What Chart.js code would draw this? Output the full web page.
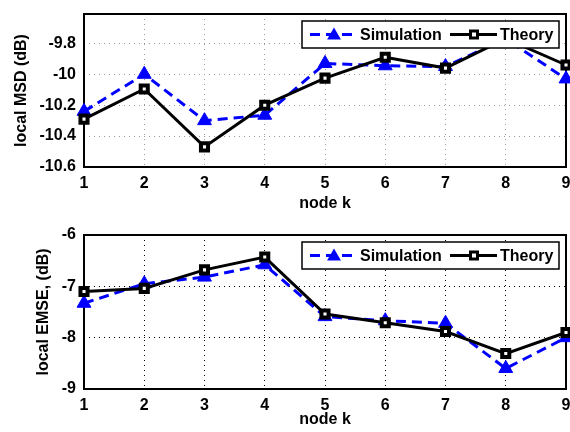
<!DOCTYPE html>
<html>
<head>
<meta charset="utf-8">
<script src="https://cdn.jsdelivr.net/npm/chart.js@4.4.0/dist/chart.umd.min.js"></script>
<style>
  body { margin: 0; background: #fff; }
  canvas { display: block; }
</style>
</head>
<body>
<canvas id="msdChart" width="570" height="216"></canvas>
<canvas id="emseChart" width="570" height="216"></canvas>
<script>
// Data
const nodes = ['1', '2', '3', '4', '5', '6', '7', '8', '9'];
const msdSimulation = [-10.24, -10.0, -10.30, -10.265, -9.93, -9.945, -9.95, -9.77, -10.03];
const msdTheory = [-10.29, -10.095, -10.47, -10.20, -10.025, -9.89, -9.96, -9.77, -9.94];
const msdTicks = [-10.6, -10.4, -10.2, -10, -9.8];
const emseSimulation = [-7.33, -6.95, -6.82, -6.58, -7.59, -7.67, -7.72, -8.60, -8.00];
const emseTheory = [-7.10, -7.04, -6.68, -6.43, -7.54, -7.71, -7.88, -8.31, -7.90];
const emseTicks = [-9, -8, -7, -6];
const legendLabels = ['Simulation', 'Theory'];

const FONT_FAMILY = '"Liberation Sans", Arial, sans-serif';
const BLUE = '#0000ff';

function drawTriangle(ctx, x, y, r) {
    ctx.beginPath();
    ctx.moveTo(x, y - r);
    ctx.lineTo(x + r * 0.866, y + r * 0.5);
    ctx.lineTo(x - r * 0.866, y + r * 0.5);
    ctx.closePath();
}

// Box around the plot area, like MATLAB axes
const boxPlugin = {
    id: 'axesBox',
    beforeDatasetsDraw(chart) {
        const { ctx, chartArea } = chart;
        ctx.save();
        ctx.strokeStyle = '#000';
        ctx.lineWidth = 2;
        ctx.strokeRect(chartArea.left, chartArea.top, chartArea.right - chartArea.left, chartArea.bottom - chartArea.top);
        ctx.restore();
    }
};

// Legend drawn inside the top right corner of the plot area
const insideLegend = {
    id: 'insideLegend',
    afterDraw(chart) {
        const { ctx, chartArea } = chart;
        const w = 257, h = 27;
        const left = chartArea.right - 7 - w;
        const top = chartArea.top + 7;
        const cy = top + h / 2;
        ctx.save();
        ctx.fillStyle = '#fff';
        ctx.fillRect(left, top, w, h);
        ctx.strokeStyle = '#000';
        ctx.lineWidth = 1.5;
        ctx.strokeRect(left, top, w, h);

        // Simulation sample
        ctx.strokeStyle = BLUE;
        ctx.lineWidth = 3;
        ctx.setLineDash([10, 6]);
        ctx.beginPath();
        ctx.moveTo(left + 8, cy);
        ctx.lineTo(left + 54, cy);
        ctx.stroke();
        ctx.setLineDash([]);
        ctx.fillStyle = BLUE;
        drawTriangle(ctx, left + 32, cy + 1, 8);
        ctx.fill();

        // Theory sample
        ctx.strokeStyle = '#000';
        ctx.lineWidth = 3;
        ctx.beginPath();
        ctx.moveTo(left + 148, cy);
        ctx.lineTo(left + 195, cy);
        ctx.stroke();
        ctx.fillStyle = '#000';
        ctx.fillRect(left + 167, cy - 5, 10, 10);
        ctx.fillStyle = '#fff';
        ctx.fillRect(left + 170, cy - 2, 4, 4);

        ctx.fillStyle = '#000';
        ctx.font = 'bold 16px ' + FONT_FAMILY;
        ctx.textBaseline = 'middle';
        ctx.textAlign = 'left';
        ctx.fillText(legendLabels[0], left + 58, cy + 1);
        ctx.fillText(legendLabels[1], left + 198, cy + 1);
        ctx.restore();
    }
};

function makeChart(id, simulation, theory, ticks, yMin, yMax, yTitle, gridColor, gridDash, padTop, xAxisHeight, titleOffset) {
    const ctx = document.getElementById(id).getContext('2d');
    return new Chart(ctx, {
        type: 'line',
        data: {
            labels: nodes,
            datasets: [{
                label: legendLabels[1],
                data: theory,
                borderColor: '#000',
                borderWidth: 3,
                pointStyle: 'rect',
                pointRadius: 5,
                pointBorderWidth: 4,
                pointBackgroundColor: '#fff',
                pointBorderColor: '#000',
                tension: 0,
                clip: false
            }, {
                label: legendLabels[0],
                data: simulation,
                borderColor: BLUE,
                borderWidth: 3,
                borderDash: [10, 6],
                pointStyle: 'triangle',
                pointRadius: 8,
                pointBorderWidth: 1,
                pointBackgroundColor: BLUE,
                pointBorderColor: BLUE,
                tension: 0,
                clip: false
            }]
        },
        options: {
            responsive: false,
            animation: false,
            devicePixelRatio: 1,
            layout: { autoPadding: false, padding: { top: padTop, right: 4, left: 0, bottom: 0 } },
            plugins: {
                legend: { display: false },
                tooltip: { enabled: false }
            },
            scales: {
                x: {
                    offset: false,
                    grid: { color: gridColor, lineWidth: 1, drawTicks: false },
                    border: { display: false, dash: gridDash },
                    ticks: {
                        color: '#000',
                        padding: 7,
                        maxRotation: 0,
                        font: { family: FONT_FAMILY, size: 16, weight: 'bold', lineHeight: 1.2 }
                    },
                    title: {
                        display: true,
                        text: 'node k',
                        color: '#000',
                        padding: { top: 0, bottom: 3 },
                        font: { family: FONT_FAMILY, size: 16, weight: 'bold', lineHeight: 1.2 }
                    },
                    afterFit(scale) {
                        scale.height = xAxisHeight;
                        scale.paddingLeft = 0;
                        scale.paddingRight = 0;
                    }
                },
                y: {
                    min: yMin,
                    max: yMax,
                    grid: { color: gridColor, lineWidth: 1, drawTicks: false },
                    border: { display: false, dash: gridDash },
                    afterBuildTicks(scale) {
                        scale.ticks = ticks.map(v => ({ value: v }));
                    },
                    ticks: {
                        color: '#000',
                        padding: 8,
                        callback: v => String(v),
                        font: { family: FONT_FAMILY, size: 16, weight: 'bold', lineHeight: 1.2 }
                    },
                    title: {
                        display: true,
                        text: yTitle,
                        color: '#000',
                        padding: { top: titleOffset, bottom: 0 },
                        font: { family: FONT_FAMILY, size: 16, weight: 'bold', lineHeight: 1.2 }
                    },
                    afterFit(scale) {
                        scale.width = 84;
                        scale.paddingTop = 0;
                        scale.paddingBottom = 0;
                    }
                }
            }
        },
        plugins: [boxPlugin, insideLegend]
    });
}

makeChart('msdChart', msdSimulation, msdTheory, msdTicks, -10.6, -9.61,
    'local MSD (dB)', '#9a9a9a', [1, 4], 14, 49, 12);
makeChart('emseChart', emseSimulation, emseTheory, emseTicks, -9, -6,
    'local EMSE, (dB)', '#000', [1, 4], 19, 43, 34);
</script>
</body>
</html>
